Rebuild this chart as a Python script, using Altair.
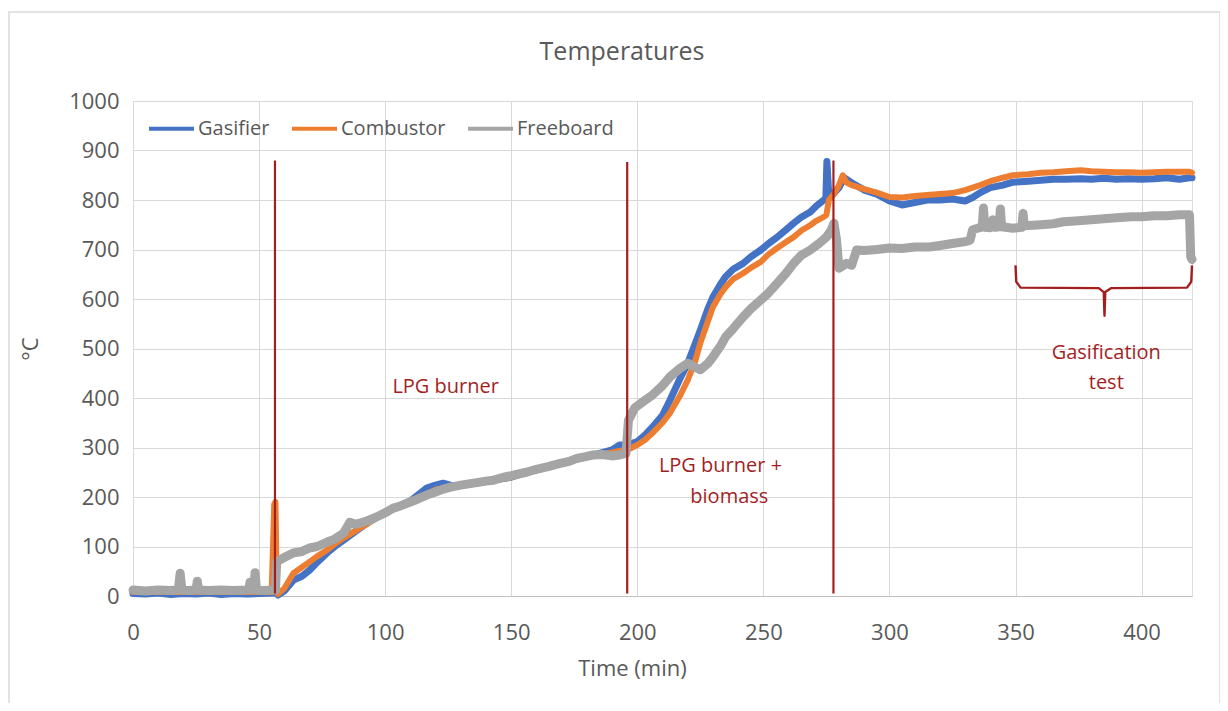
import altair as alt
import pandas as pd

FONT = "Open Sans"
TXT = "#595959"
RED = "#A31F1F"

SERIES = ["Gasifier", "Combustor", "Freeboard"]
COLORS = ["#4472C4", "#ED7D31", "#A5A5A5"]

GAS_T = [0, 5, 10, 15, 20, 25, 30, 35, 40, 45,
         50, 55, 56.5, 57.5, 60, 63.6, 67, 70, 73, 77,
         80, 83.5, 87, 90, 95, 100, 105, 110, 116.5, 120,
         123, 127, 130, 135, 140, 145, 150, 155, 160, 165,
         170, 175, 180, 185, 190, 193, 196, 200, 203, 206,
         210, 213, 217, 220, 223, 225, 228, 230, 233, 235,
         238, 242, 245, 249, 252, 255.5, 259, 262, 265, 268.6,
         271, 274, 274.8, 275.2, 276, 278, 280, 282, 285, 290,
         295, 300, 305, 310, 315, 320, 325, 330, 333, 336,
         340, 345, 349, 355, 360, 365, 370, 376, 380, 385,
         390, 395, 400, 405, 410, 415, 419, 420]
GAS_V = [5, 4, 6, 3, 5, 4, 6, 3, 5, 4,
         5, 6, 8, 2, 10, 32, 40, 52, 68, 87,
         100, 113, 126, 137, 155, 170, 180, 192, 218, 224,
         228, 222, 224, 228, 232, 236, 240, 248, 255, 262,
         268, 276, 282, 288, 295, 305, 305, 312, 325, 341,
         365, 396, 440, 470, 510, 537, 580, 604, 630, 645,
         660, 672, 685, 699, 712, 725, 740, 753, 765, 776,
         788, 800, 805, 878, 805, 814, 825, 845, 835, 820,
         812, 798, 790, 795, 800, 800, 802, 798, 805, 815,
         825, 830, 836, 838, 840, 842, 842, 843, 842, 844,
         842, 843, 842, 843, 845, 842, 845, 845]

COMB_T = [0, 10, 20, 30, 40, 50, 55, 56, 56.5, 57,
          57.5, 60, 63.6, 67, 70, 73, 77, 80, 83.5, 87,
          90, 100, 110, 120, 130, 140, 150, 160, 170, 180,
          190, 193, 196, 200, 203, 206, 210, 213, 217, 220,
          223, 225, 228, 230, 233, 235, 238, 242, 245, 249,
          252, 255.5, 259, 262, 265, 268.6, 271, 274, 275, 276,
          278, 280, 281.5, 283, 285, 290, 295, 300, 305, 310,
          315, 320, 325, 330, 336, 340, 345, 349, 355, 360,
          365, 370, 376, 380, 385, 390, 395, 400, 405, 410,
          415, 419, 420]
COMB_V = [8, 8, 8, 8, 8, 8, 8, 185, 190, 20,
          4, 15, 46, 58, 69, 80, 93, 105, 117, 128,
          137, 168, 190, 215, 222, 230, 240, 255, 268, 280,
          290, 293, 295, 305, 315, 329, 350, 370, 405, 436,
          475, 511, 555, 584, 610, 624, 640, 652, 663, 675,
          690, 703, 715, 725, 738, 749, 758, 766, 770, 800,
          812, 830, 850, 835, 830, 822, 815, 806, 805, 808,
          810, 812, 814, 820, 830, 838, 845, 850, 852, 855,
          856, 858, 860, 858, 857, 856, 856, 855, 856, 857,
          857, 857, 855]

FREE_T = [0, 5, 10, 15, 18, 18.7, 19.4, 22, 25, 25.5,
          26, 30, 35, 40, 45, 46, 46.4, 47, 48, 48.4,
          49, 52, 55, 56.5, 57, 58.3, 60, 63.6, 67, 70,
          73, 77, 80, 83.5, 85, 86, 88, 90, 93, 96.7,
          100, 103, 106, 110, 113, 116.5, 120, 123, 126, 130,
          135, 140, 143, 147, 150, 156, 160, 165, 169.4, 173,
          176, 180, 182.5, 186, 190, 193, 195.5, 196.5, 199, 203,
          206, 210, 213, 217, 220, 223, 225, 228, 230, 233,
          235, 238, 242, 245, 249, 252, 255.5, 259, 262, 265,
          268.6, 272, 275, 277, 278, 279, 280, 283, 285, 287,
          290, 295, 300, 305, 310, 316, 320, 325, 330, 332,
          333, 335, 336.8, 337.3, 337.8, 340, 341, 342, 343.5, 344,
          344.5, 349, 352.5, 353, 353.5, 360, 365, 369, 375, 380,
          385, 390, 396, 400, 405, 410, 415, 419, 419.5, 420]
FREE_V = [12, 10, 12, 11, 12, 46, 12, 11, 12, 30,
          12, 11, 12, 11, 12, 14, 28, 12, 14, 47,
          12, 11, 12, 12, 70, 73, 78, 87, 90, 97,
          100, 109, 115, 127, 140, 149, 145, 147, 152, 160,
          168, 177, 182, 190, 196, 204, 210, 216, 220, 224,
          228, 232, 234, 240, 243, 250, 256, 262, 268, 272,
          278, 282, 285, 286, 283, 285, 288, 355, 380, 395,
          406, 425, 443, 460, 470, 462, 457, 470, 483, 505,
          523, 540, 564, 580, 598, 612, 632, 652, 672, 688,
          699, 712, 725, 740, 753, 720, 662, 672, 668, 699,
          698, 700, 703, 702, 705, 705, 708, 712, 716, 719,
          740, 743, 745, 784, 745, 744, 760, 745, 746, 782,
          746, 743, 745, 773, 748, 750, 752, 756, 758, 760,
          762, 764, 766, 766, 768, 768, 770, 770, 685, 680]

# phase markers (vertical red lines)
MARK_T = [56.3, 196, 277.8]
MARK_LO = [5, 5, 5]
MARK_HI = [880, 877, 880]

# curly bracket over the gasification test
BR_T = [350, 350.3, 352, 383, 385, 385.3, 385.6, 388, 418, 419.7, 420]
BR_V = [668, 635, 623, 622, 614, 566, 614, 622, 623, 635, 668]

ANN_T = [124, 233, 236.5, 386, 386]
ANN_V = [422, 263, 200, 491, 430]
ANN_TEXT = ["LPG burner", "LPG burner +", "biomass", "Gasification", "test"]


def frame(ts, vs, name):
    assert len(ts) == len(vs), name
    return pd.DataFrame({"t": ts, "v": vs, "series": name})


W, H = 1059, 495
xscale = alt.Scale(domain=[0, 420], nice=False, zero=False)
yscale = alt.Scale(domain=[0, 1000], nice=False)
cscale = alt.Scale(domain=SERIES, range=COLORS)

x_axis = alt.Axis(values=list(range(0, 401, 50)), grid=True, gridColor="#D9D9D9",
                  domainColor="#BFBFBF", domainWidth=1.2, ticks=False, labelFlush=False,
                  format="d",
                  labelFont=FONT, labelFontSize=22, labelColor=TXT, labelPadding=26,
                  title="Time (min)", titleFont=FONT, titleFontSize=22,
                  titleFontWeight="normal", titleColor=TXT, titleX=499, titleY=72,
                  titleBaseline="middle", titleAlign="center")
y_axis = alt.Axis(values=list(range(0, 1001, 100)), grid=True, gridColor="#D9D9D9",
                  domain=False, ticks=False, labelFlush=False, format="d",
                  labelFont=FONT, labelFontSize=22, labelColor=TXT, labelPadding=14,
                  title="°C", titleFont=FONT, titleFontSize=22, titleFontWeight="normal",
                  titleColor=TXT, titleX=-103, titleY=H / 2, titleAngle=-90,
                  titleAlign="center", titleBaseline="middle")

legend = alt.Legend(orient="none", legendX=14, legendY=3, direction="horizontal",
                    title=None, symbolType="stroke", symbolStrokeWidth=4,
                    symbolSize=2025, labelFont=FONT, labelFontSize=20,
                    labelColor=TXT, columnPadding=14, labelOffset=2)


def X(field):
    return alt.X(field, scale=xscale, axis=x_axis)


def Y(field):
    return alt.Y(field, scale=yscale, axis=y_axis)


def series_layer(ts, vs, name, width):
    df = frame(ts, vs, name)
    return alt.Chart(df).mark_line(strokeWidth=width, strokeJoin="round",
                                   strokeCap="round").encode(
        x=X("t:Q"), y=Y("v:Q"),
        color=alt.Color("series:N", scale=cscale, legend=legend),
    )


gas = series_layer(GAS_T, GAS_V, "Gasifier", 7)
comb = series_layer(COMB_T, COMB_V, "Combustor", 6)
free = series_layer(FREE_T, FREE_V, "Freeboard", 9)

marks = alt.Chart(pd.DataFrame({"t": MARK_T, "lo": MARK_LO, "hi": MARK_HI})).mark_rule(
    color=RED, strokeWidth=2.2).encode(
    x=X("t:Q"), y=Y("lo:Q"), y2="hi:Q",
)

bracket = alt.Chart(pd.DataFrame({"t": BR_T, "v": BR_V, "i": list(range(len(BR_T)))})).mark_line(
    color=RED, strokeWidth=2.4, strokeJoin="round").encode(
    x=X("t:Q"), y=Y("v:Q"), order="i:Q",
)

ann = alt.Chart(pd.DataFrame({"t": ANN_T, "v": ANN_V, "txt": ANN_TEXT})).mark_text(
    font=FONT, fontSize=20, color=RED, align="center", baseline="middle").encode(
    x=X("t:Q"), y=Y("v:Q"), text="txt:N",
)

title = alt.Chart(pd.DataFrame({"txt": ["Temperatures"]})).mark_text(
    font=FONT, fontSize=25, color=TXT, align="center", baseline="middle").encode(
    x=alt.value(489), y=alt.value(-49), text="txt:N")

border = alt.Chart(pd.DataFrame({"a": [0]})).mark_rect(
    fill=None, stroke="#D9D9D9", strokeWidth=1.5).encode(
    x=alt.value(-124), x2=alt.value(1087), y=alt.value(-89), y2=alt.value(640))

chart = alt.layer(border, gas, comb, free, marks, bracket, ann, title).properties(
    width=W, height=H,
    padding={"left": 125, "top": 93, "right": 28, "bottom": 107},
    autosize=alt.AutoSizeParams(type="none"),
).configure_view(strokeWidth=0, stroke="transparent").configure(background="white")

chart.save("out.html", embed_options={"renderer": "svg", "actions": False})
